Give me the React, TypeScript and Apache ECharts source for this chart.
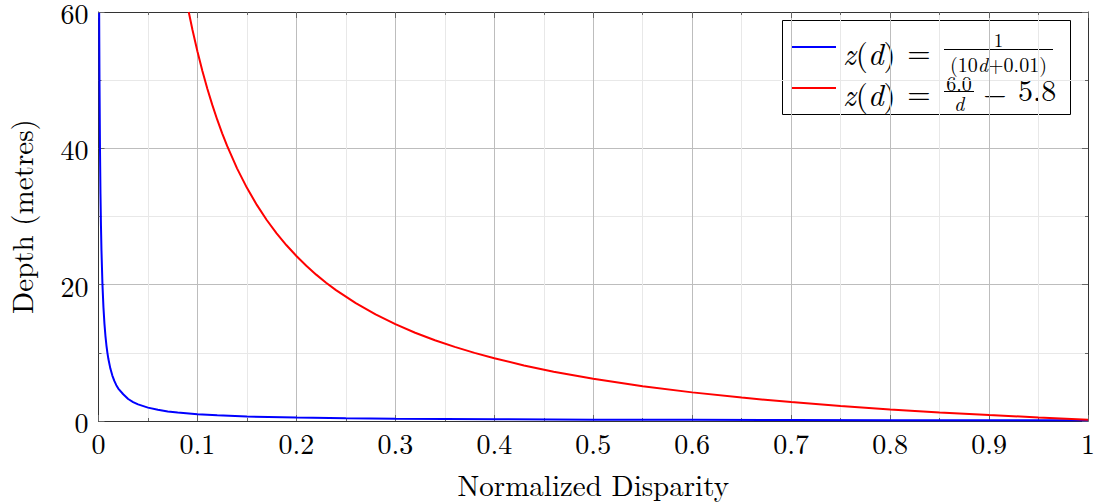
import React, { useEffect, useRef } from "react";
import * as echarts from "echarts";

const blueDisparity = [0.00067, 0.0008, 0.001, 0.0015, 0.002, 0.0025, 0.003, 0.004, 0.005, 0.006, 0.007, 0.008, 0.009, 0.01, 0.012, 0.014, 0.016, 0.018, 0.02, 0.025, 0.03, 0.035, 0.04, 0.05, 0.06, 0.07, 0.08, 0.1, 0.12, 0.15, 0.2, 0.25, 0.3, 0.4, 0.5, 0.6, 0.7, 0.8, 0.9, 1.0];
const blueDepth = [59.9, 55.6, 50.0, 40.0, 33.3, 28.6, 25.0, 20.0, 16.67, 14.29, 12.5, 11.11, 10.0, 9.09, 7.69, 6.67, 5.88, 5.26, 4.76, 3.92, 3.23, 2.78, 2.44, 1.96, 1.64, 1.41, 1.23, 0.99, 0.83, 0.66, 0.5, 0.4, 0.33, 0.25, 0.2, 0.17, 0.14, 0.125, 0.111, 0.1];

const redDisparity = [0.0912, 0.095, 0.1, 0.105, 0.11, 0.115, 0.12, 0.125, 0.13, 0.14, 0.15, 0.16, 0.17, 0.18, 0.19, 0.2, 0.21, 0.22, 0.23, 0.24, 0.26, 0.28, 0.3, 0.32, 0.34, 0.36, 0.38, 0.4, 0.43, 0.46, 0.5, 0.55, 0.6, 0.65, 0.7, 0.75, 0.8, 0.85, 0.9, 0.95, 1.0];
const redDepth = [60.0, 57.36, 54.2, 51.34, 48.75, 46.37, 44.2, 42.2, 40.35, 37.06, 34.2, 31.7, 29.49, 27.53, 25.78, 24.2, 22.77, 21.47, 20.29, 19.2, 17.28, 15.63, 14.2, 12.95, 11.85, 10.87, 9.99, 9.2, 8.15, 7.24, 6.2, 5.11, 4.2, 3.43, 2.77, 2.2, 1.7, 1.26, 0.87, 0.52, 0.2];

const xTicks = [0, 0.1, 0.2, 0.3, 0.4, 0.5, 0.6, 0.7, 0.8, 0.9, 1];

const FONT = "Latin Modern Roman";

export default function App() {
  const ref = useRef<HTMLDivElement>(null);
  useEffect(() => {
    if (!ref.current) return;
    const chart = echarts.init(ref.current, null, { renderer: "svg" });
    const blue = blueDisparity.map((d, i) => [d, blueDepth[i]]);
    const red = redDisparity.map((d, i) => [d, redDepth[i]]);
    const commonX = { type: "value" as const, min: 0, max: 1, interval: 0.1 };
    const commonY = { type: "value" as const, min: 0, max: 60, interval: 20 };
    const tickStyle = { color: "#666", width: 1 };
    const txt = (x: number, y: number, text: string, size: number, align: string, italic = false, rich = false) => {
      const lh = Math.round(size * 0.7);
      const style: any = {
        text,
        align,
        verticalAlign: "middle",
        fontFamily: FONT,
        fontSize: size,
        lineHeight: lh,
        fill: "#000",
      };
      if (italic) style.fontStyle = "italic";
      if (rich) style.rich = { i: { fontStyle: "italic", fontFamily: FONT, fontSize: size, lineHeight: lh } };
      return { type: "text", x, y, style };
    };
    chart.setOption({
      animation: false,
      backgroundColor: "#fff",
      grid: { left: 98.5, right: 9, top: 12, bottom: 83, show: false, containLabel: false, outerBoundsMode: "none" },
      xAxis: [
        {
          ...commonX,
          position: "bottom",
          name: "Normalized Disparity",
          nameLocation: "middle",
          nameGap: 48,
          nameTextStyle: { fontFamily: FONT, fontSize: 29, color: "#000" },
          axisLine: { show: true, onZero: false, lineStyle: { color: "#333", width: 1 } },
          axisTick: { show: true, inside: true, length: 6, lineStyle: tickStyle },
          minorTick: { show: true, splitNumber: 2, length: 3, lineStyle: tickStyle },
          axisLabel: {
            fontFamily: FONT,
            fontSize: 28,
            lineHeight: 22,
            color: "#000",
            margin: 10,
            formatter: (v: number) => {
              const r = Math.round(v * 10) / 10;
              return xTicks.includes(r) ? String(r) : "";
            },
          },
          splitLine: { show: true, lineStyle: { color: "#bdbdbd", width: 1 } },
          minorSplitLine: { show: true, lineStyle: { color: "#e8e8e8", width: 1 } },
        },
        {
          ...commonX,
          position: "top",
          axisLine: { show: true, onZero: false, lineStyle: { color: "#333", width: 1 } },
          axisTick: { show: true, inside: true, length: 6, lineStyle: tickStyle },
          minorTick: { show: true, splitNumber: 2, length: 3, lineStyle: tickStyle },
          axisLabel: { show: false },
          splitLine: { show: false },
        },
      ],
      yAxis: [
        {
          ...commonY,
          position: "left",
          name: "Depth (metres)",
          nameLocation: "middle",
          nameGap: 64,
          nameRotate: 90,
          nameTextStyle: { fontFamily: FONT, fontSize: 29, color: "#000" },
          axisLine: { show: true, onZero: false, lineStyle: { color: "#333", width: 1 } },
          axisTick: { show: true, inside: true, length: 6, lineStyle: tickStyle },
          minorTick: { show: true, splitNumber: 2, length: 3, lineStyle: tickStyle },
          axisLabel: { fontFamily: FONT, fontSize: 28, lineHeight: 20, color: "#000", margin: 10 },
          splitLine: { show: true, lineStyle: { color: "#bdbdbd", width: 1 } },
          minorSplitLine: { show: true, lineStyle: { color: "#e8e8e8", width: 1 } },
        },
        {
          ...commonY,
          position: "right",
          axisLine: { show: true, onZero: false, lineStyle: { color: "#333", width: 1 } },
          axisTick: { show: true, inside: true, length: 6, lineStyle: tickStyle },
          minorTick: { show: true, splitNumber: 2, length: 3, lineStyle: tickStyle },
          axisLabel: { show: false },
          splitLine: { show: false },
        },
      ],
      series: [
        {
          name: "z(d) = 1/(10d+0.01)",
          type: "line",
          data: blue,
          showSymbol: false,
          clip: true,
          lineStyle: { color: "#0000ff", width: 2 },
          itemStyle: { color: "#0000ff" },
          z: 5,
        },
        {
          name: "z(d) = 6.0/d − 5.8",
          type: "line",
          data: red,
          showSymbol: false,
          clip: true,
          lineStyle: { color: "#ff0000", width: 2 },
          itemStyle: { color: "#ff0000" },
          z: 5,
        },
      ],
      graphic: [
        {
          type: "group",
          z: 100,
          children: [
            { type: "rect", shape: { x: 782.5, y: 20.5, width: 288, height: 94 }, style: { fill: "#fff", stroke: "#000", lineWidth: 1 } },
            { type: "line", shape: { x1: 791, y1: 47, x2: 836, y2: 47 }, style: { stroke: "#0000ff", lineWidth: 2 } },
            { type: "line", shape: { x1: 791, y1: 88, x2: 836, y2: 88 }, style: { stroke: "#ff0000", lineWidth: 2 } },
            txt(843, 52, "{i|z}({i|d})", 31, "left", false, true),
            txt(919, 50, "=", 30, "center"),
            txt(998.5, 39.5, "1", 19, "center"),
            { type: "line", shape: { x1: 944, y1: 49.5, x2: 1053, y2: 49.5 }, style: { stroke: "#000", lineWidth: 1 } },
            txt(998.5, 63, "(10{i|d}+0.01)", 20, "center", false, true),
            txt(843, 93, "{i|z}({i|d})", 31, "left", false, true),
            txt(919, 91, "=", 30, "center"),
            txt(959, 82, "6.0", 20, "center"),
            { type: "line", shape: { x1: 944, y1: 91.5, x2: 974, y2: 91.5 }, style: { stroke: "#000", lineWidth: 1 } },
            txt(959, 102.5, "d", 20, "center", true),
            txt(995, 91, "−", 30, "center"),
            txt(1018, 88.5, "5.8", 30, "left"),
          ],
        },
      ],
    });
    return () => chart.dispose();
  }, []);
  return (
    <div
      ref={ref}
      style={{ position: "fixed", left: 0, top: 0, width: 1097, height: 504, background: "#fff" }}
    />
  );
}
